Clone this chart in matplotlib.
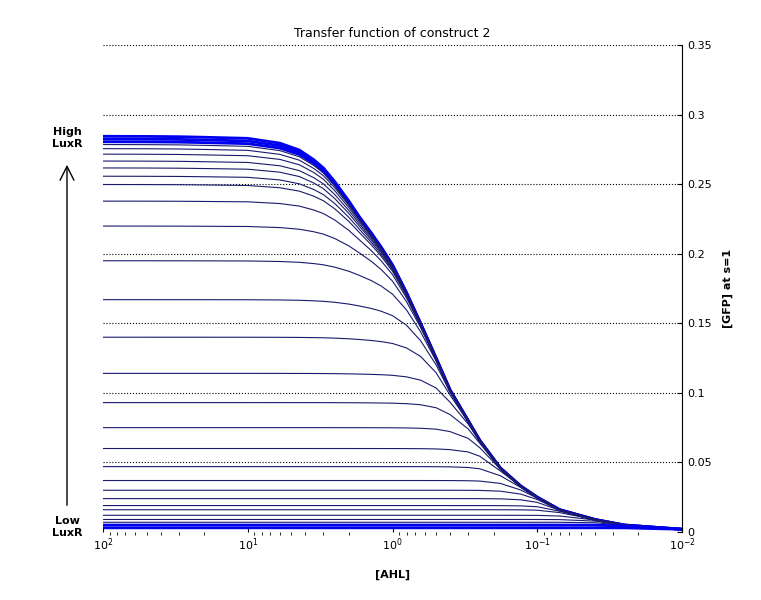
import numpy as np
import matplotlib.pyplot as plt

# AHL sample points and the upper envelope (top curve)
ahl = [100, 50, 30, 20, 10, 6, 4.4, 3.5, 3, 2.5, 2, 1.7, 1.4, 1.2, 1.0, 0.8, 0.64,
       0.5, 0.4, 0.3, 0.25, 0.18, 0.13, 0.1, 0.07, 0.04, 0.025, 0.01]
envelope = [0.285, 0.2849, 0.2847, 0.2843, 0.2835, 0.280, 0.275, 0.268, 0.262, 0.252,
            0.238, 0.227, 0.215, 0.205, 0.192, 0.172, 0.150, 0.125, 0.102, 0.080,
            0.066, 0.046, 0.033, 0.025, 0.016, 0.009, 0.005, 0.002]
# plateau level of each curve at high AHL (one per LuxR level)
plateaus = [0.285, 0.283, 0.281, 0.279, 0.276, 0.272, 0.267, 0.262, 0.256, 0.250,
            0.238, 0.220, 0.195, 0.167, 0.140, 0.114, 0.093, 0.075, 0.060, 0.047,
            0.037, 0.030, 0.024, 0.019, 0.016, 0.012, 0.009, 0.007, 0.005, 0.003]

fig = plt.figure(figsize=(7.61, 6), dpi=100)
ax = fig.add_axes([103 / 761, 68 / 600, 579 / 761, 487 / 600])

x = np.array(ahl)
e = np.array(envelope)
n = 5
pmax = 0.2856
g = e * pmax / (pmax ** n - e ** n) ** (1 / n)  # unsaturated drive behind the envelope
for i, p in enumerate(plateaus):
    y = p * g / (p ** n + g ** n) ** (1 / n)
    top = i < 3 or i >= len(plateaus) - 2
    ax.plot(x, y, color='#0000ee' if top else '#1a1a6e', lw=2 if top else 0.8)

ax.set_xscale('log')
ax.set_xlim(100, 0.01)
ax.set_ylim(0, 0.35)
ax.set_yticks(np.arange(0, 0.36, 0.05))
ax.set_yticklabels(['0', '0.05', '0.1', '0.15', '0.2', '0.25', '0.3', '0.35'])
ax.yaxis.tick_right()
ax.yaxis.set_label_position('right')
ax.tick_params(labelsize=8, direction='in')
ax.grid(axis='y', linestyle=':', color='black', lw=0.8)
for s in ['top', 'left', 'bottom']:
    ax.spines[s].set_visible(False)

ax.set_title('Transfer function of construct 2', fontsize=9)
ax.set_xlabel('[AHL]', fontsize=8, fontweight='bold', labelpad=12)
ax.set_ylabel('[GFP] at s=1', fontsize=8, fontweight='bold', labelpad=8)

fig.text(67 / 761, 1 - 138 / 600, 'High\nLuxR', ha='center', va='center', fontsize=8, fontweight='bold')
fig.text(67 / 761, 1 - 527 / 600, 'Low\nLuxR', ha='center', va='center', fontsize=8, fontweight='bold')
fig.add_artist(plt.matplotlib.patches.FancyArrowPatch(
    (67 / 761, 1 - 508 / 600), (67 / 761, 1 - 162 / 600), transform=fig.transFigure,
    arrowstyle='->', mutation_scale=25, lw=1, color='black'))

fig.savefig('out.png', dpi=100)
